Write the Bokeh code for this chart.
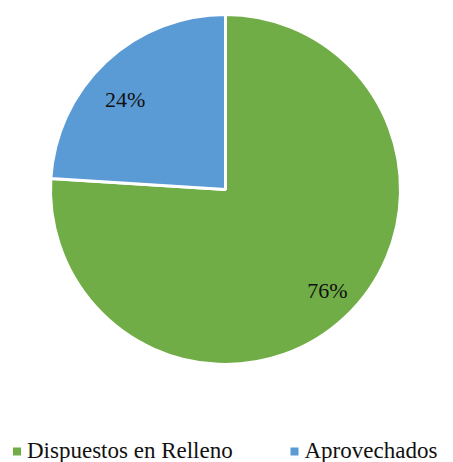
import numpy as np
from bokeh.plotting import figure
from bokeh.models import Range1d, ColumnDataSource, Label, LabelSet
from bokeh.embed import file_html
from bokeh.resources import INLINE

categories = ["Dispuestos en Relleno", "Aprovechados"]
shares = [76, 24]
labels = ["76%", "24%"]
colors = ["#70AD47", "#5B9BD5"]

W, H = 453, 462
p = figure(width=W, height=H, output_backend="svg", toolbar_location=None,
           x_range=Range1d(0, W), y_range=Range1d(0, H),
           min_border=0)
p.axis.visible = False
p.grid.visible = False
p.outline_line_color = None

cx, cy, r = 225, 462 - 189, 175
vals = np.array(shares, dtype=float)
frac = vals / vals.sum()
ends = np.pi / 2 - np.concatenate([[0], np.cumsum(frac)[:-1]]) * 2 * np.pi
starts = ends - frac * 2 * np.pi
src = ColumnDataSource(dict(start=starts, end=ends, color=colors, cat=categories))
p.wedge(x=cx, y=cy, radius=r, start_angle="start", end_angle="end",
        fill_color="color", line_color="white", line_width=3, source=src)

mid = (starts + ends) / 2 + np.radians([2, 5])
lr = np.array([0.82, 0.77]) * r
lsrc = ColumnDataSource(dict(x=cx + lr * np.cos(mid), y=cy + lr * np.sin(mid), t=labels))
p.add_layout(LabelSet(x="x", y="y", text="t", source=lsrc, text_align="center",
                      text_baseline="middle", text_font="Liberation Serif",
                      text_font_size="22px", text_color="#111111"))

# legend
leg_x = [16.5, 294]
leg_y = 462 - 451
p.scatter(x=leg_x, y=[leg_y] * 2, marker="square", size=8, fill_color=colors, line_color=None)
for x, c in zip(leg_x, categories):
    p.add_layout(Label(x=x + 10, y=leg_y + 1, text=c, text_align="left",
                       text_baseline="middle", text_font="Liberation Serif",
                       text_font_size="23px", text_color="#111111"))

open("out.html", "w").write(file_html(p, INLINE))
